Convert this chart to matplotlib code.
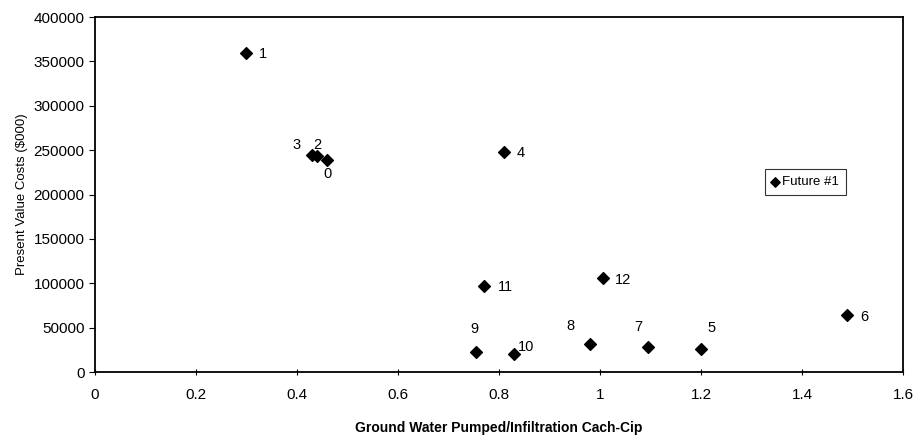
import matplotlib.pyplot as plt

plt.rcParams['font.family'] = ['Liberation Sans', 'DejaVu Sans']

# scenario points (ratio, present value cost in $000)
labels = ['0', '1', '2', '3', '4', '5', '6', '7', '8', '9', '10', '11', '12']
ratio = [0.46, 0.30, 0.44, 0.43, 0.81, 1.20, 1.49, 1.095, 0.98, 0.755, 0.83, 0.77, 1.005]
cost = [239000, 360000, 243000, 245000, 248000, 26000, 64000, 28000, 32000, 22000, 20000, 97000, 106000]

# label offsets in points
offsets = {
    '0': (-3, -13), '1': (9, -4), '2': (-3, 5), '3': (-14, 4), '4': (9, -4),
    '5': (5, 12), '6': (9, -4), '7': (-10, 12), '8': (-17, 10), '9': (-4, 14),
    '10': (3, 2), '11': (10, -4), '12': (9, -4),
}

fig = plt.figure(figsize=(9.16, 4.37), dpi=100)
ax = fig.add_axes([0.1037, 0.1487, 0.8821, 0.8123])

ax.scatter(ratio, cost, marker='D', s=36, color='black', label='Future #1', zorder=3)
for lab, x, y in zip(labels, ratio, cost):
    dx, dy = offsets[lab]
    ax.annotate(lab, (x, y), xytext=(dx, dy), textcoords='offset points', fontsize=10.5)

ax.set_xlim(0, 1.6)
ax.set_ylim(0, 400000)
ax.set_xticks([0, 0.2, 0.4, 0.6, 0.8, 1, 1.2, 1.4, 1.6])
ax.set_xticklabels(['0', '0.2', '0.4', '0.6', '0.8', '1', '1.2', '1.4', '1.6'])
ax.set_yticks(range(0, 400001, 50000))
ax.tick_params(axis='x', direction='inout', length=5, labelsize=11, pad=9)
ax.tick_params(axis='y', direction='out', length=4, labelsize=11)
for sp in ax.spines.values():
    sp.set_linewidth(1.3)

ax.set_xlabel('Ground Water Pumped/Infiltration Cach-Cip', fontsize=10, fontweight='bold', labelpad=14)
ax.set_ylabel('Present Value Costs ($000)', fontsize=9.5, fontstretch='condensed', labelpad=4)

leg = ax.legend(loc='center', bbox_to_anchor=(0.879, 0.535), fontsize=9.5, frameon=True,
                fancybox=False, edgecolor='black', handlelength=0.6, handletextpad=0.2,
                borderpad=0.5, markerscale=0.8)
leg.get_frame().set_linewidth(0.8)

fig.savefig('out.png', dpi=100)
